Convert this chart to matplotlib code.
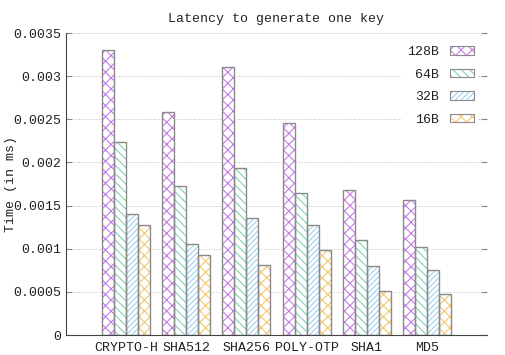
import matplotlib.pyplot as plt
import numpy as np
from matplotlib.patches import Patch

plt.rcParams['font.family'] = ['Liberation Mono', 'DejaVu Sans Mono']
plt.rcParams['hatch.linewidth'] = 0.8

categories = ['CRYPTO-H', 'SHA512', 'SHA256', 'POLY-OTP', 'SHA1', 'MD5']
series = ['128B', '64B', '32B', '16B']
v128 = [0.00330, 0.00258, 0.00311, 0.00246, 0.00168, 0.00157]
v64 = [0.00224, 0.00173, 0.00194, 0.00165, 0.00110, 0.00102]
v32 = [0.00140, 0.00105, 0.00136, 0.00127, 0.00080, 0.00075]
v16 = [0.00127, 0.00093, 0.00081, 0.00098, 0.00051, 0.00047]
values = [v128, v64, v32, v16]

colors = ['#c67ae8', '#7fd3b5', '#9fd3f0', '#f5c76a']
hatches = ['xxx', '\\\\\\\\', '//////', 'xxx']
txt = '#222222'

fig = plt.figure(figsize=(5.06, 3.55), dpi=100)
ax = fig.add_axes([66/506, 20/355, (487-66)/506, (335-33)/355])

x = np.arange(len(categories))
w = 0.2
for i, (name, vals) in enumerate(zip(series, values)):
    pos = x - 0.3 + i * w
    ax.bar(pos, vals, w, color='white', hatch=hatches[i], edgecolor=colors[i],
           linewidth=0, zorder=2)
    ax.bar(pos, vals, w, fill=False, edgecolor='#8a8a8a', linewidth=1, zorder=3)

ax.set_xlim(-1, 6)
ax.set_ylim(0, 0.0035)
yt = [0, 0.0005, 0.001, 0.0015, 0.002, 0.0025, 0.003, 0.0035]
ax.set_yticks(yt)
ax.set_yticklabels(['%g' % t for t in yt], fontsize=9.5, color=txt)
ax.set_xticks(x)
ax.set_xticklabels(categories, fontsize=9.5, color=txt)
ax.tick_params(axis='x', length=0, pad=5)
ax.tick_params(axis='y', direction='in', length=4, right=True, color='#888888')
ax.grid(axis='y', linestyle=(0, (1, 2)), color='#aaaaaa', linewidth=0.6, zorder=0)
for s in ['top', 'right']:
    ax.spines[s].set_visible(False)
for s in ['left', 'bottom']:
    ax.spines[s].set_color('#444444')

ax.set_ylabel('Time (in ms)', fontsize=9.5, color=txt)
ax.yaxis.set_label_coords(-0.116, 0.5)
ax.set_title('Latency to generate one key', fontsize=9.5, pad=8, color=txt)

# legend: labels first, outlined hatched swatches on the right
handles = [(Patch(facecolor='white', edgecolor=colors[i], hatch=hatches[i], linewidth=0),
            Patch(fill=False, edgecolor='#8a8a8a', linewidth=0.8))
           for i in range(4)]
leg = ax.legend(handles, series, loc='upper right', markerfirst=False, fontsize=9.5,
                frameon=True, edgecolor='none', facecolor='white', framealpha=1,
                handlelength=1.8, handleheight=0.6, labelspacing=0.8,
                borderaxespad=0.6, fancybox=False, labelcolor=txt)
leg.set_zorder(5)

fig.savefig('out.png', dpi=100)
